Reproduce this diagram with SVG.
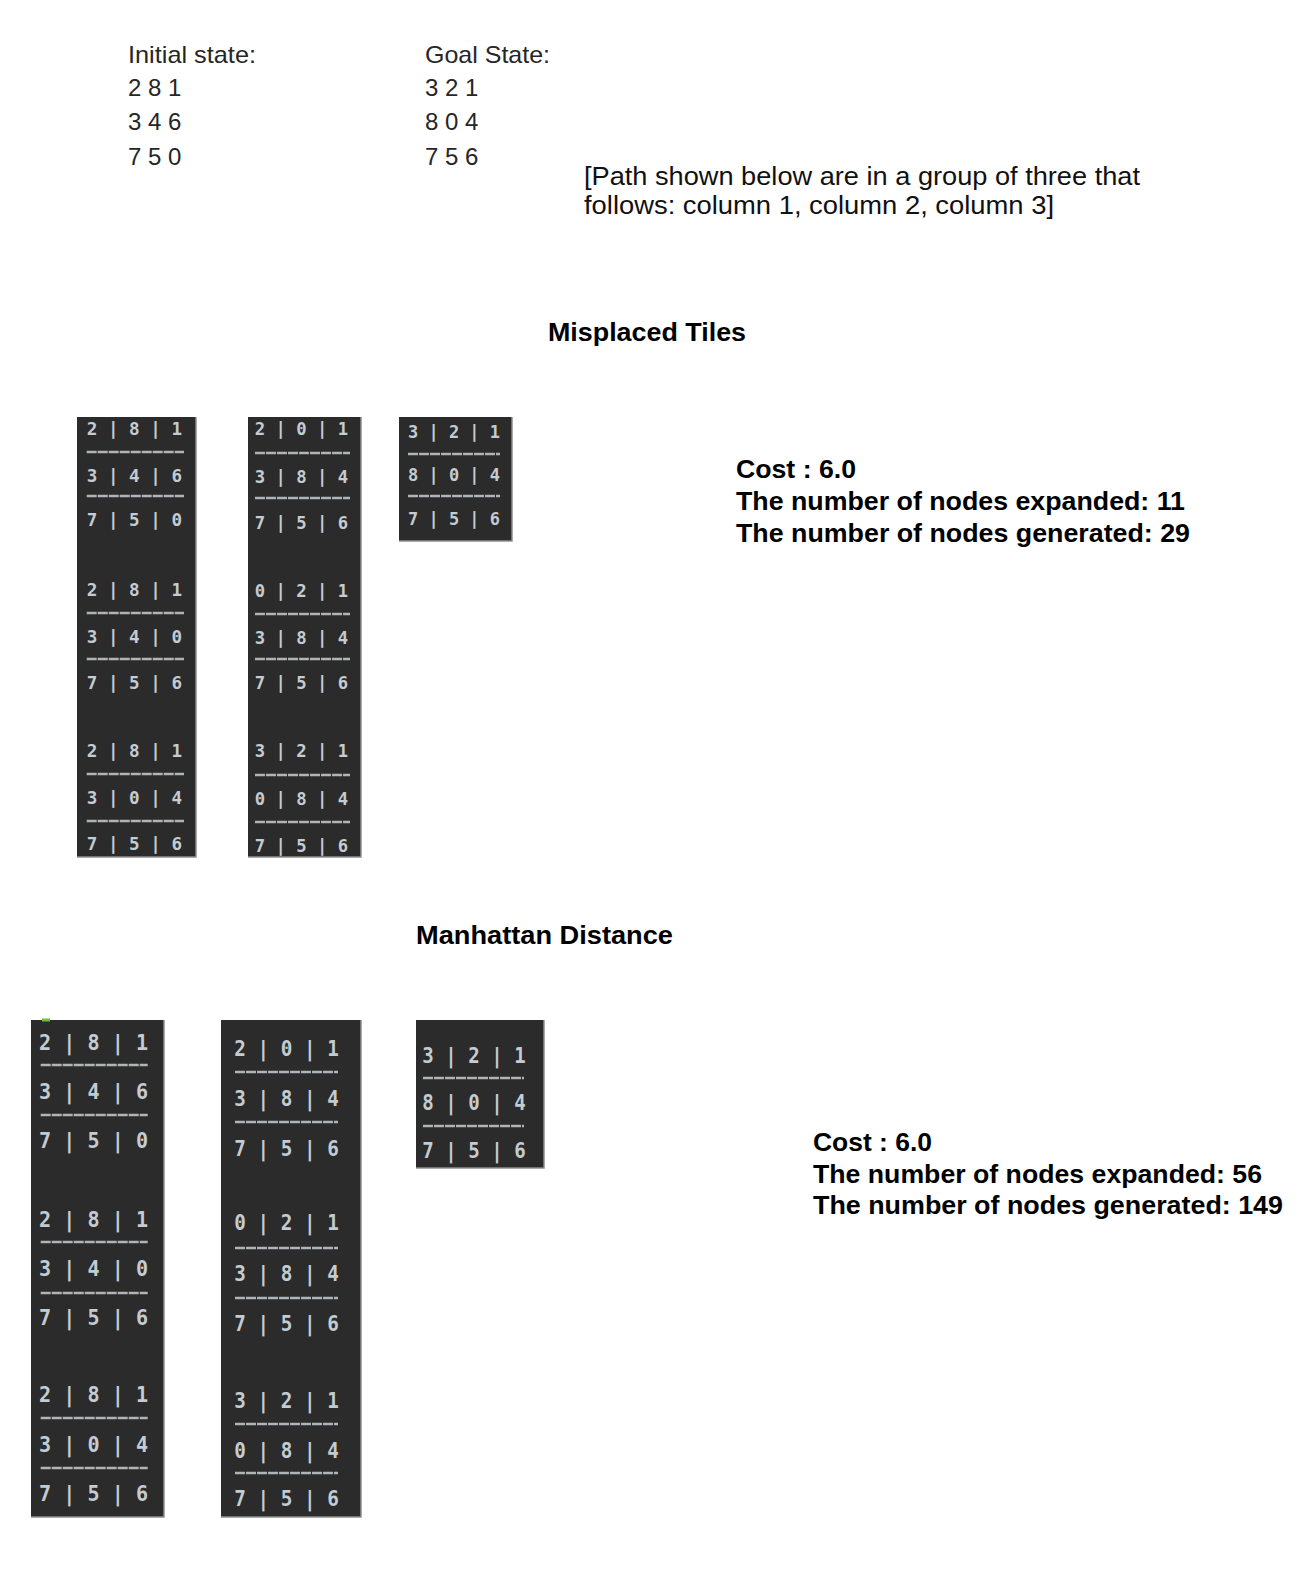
<svg xmlns="http://www.w3.org/2000/svg" width="1307" height="1584" viewBox="0 0 1307 1584">
<style>
.bg{fill:#ffffff}
.hd{font-family:"Liberation Sans",Arial,sans-serif;font-size:24px;fill:#262626}
.note{font-family:"Liberation Sans",Arial,sans-serif;font-size:25px;fill:#111111}
.ttl{font-family:"Liberation Sans",Arial,sans-serif;font-size:25px;font-weight:bold;fill:#000000}
.st{font-family:"Liberation Sans",Arial,sans-serif;font-size:25px;font-weight:bold;fill:#000000}
.pan{fill:#2b2b2b}
.edge{stroke:#8f8f8f;stroke-width:1.5;fill:none}
.t18{font-family:"DejaVu Sans Mono","Liberation Mono",monospace;font-size:18px;font-weight:bold;fill:#c4ccd2}
.t22{font-family:"DejaVu Sans Mono","Liberation Mono",monospace;font-size:22px;font-weight:bold;fill:#c4ccd2}
.sep{stroke:#b0b4b8;stroke-width:2.5;stroke-dasharray:10 1}
</style>
<rect class="bg" x="0" y="0" width="1307" height="1584"/>

<g id="header">
  <text class="hd" x="128" y="63" textLength="128" lengthAdjust="spacingAndGlyphs">Initial state:</text>
  <text class="hd" x="128" y="96">2 8 1</text>
  <text class="hd" x="128" y="130">3 4 6</text>
  <text class="hd" x="128" y="165">7 5 0</text>
  <text class="hd" x="425" y="63" textLength="125" lengthAdjust="spacingAndGlyphs">Goal State:</text>
  <text class="hd" x="425" y="96">3 2 1</text>
  <text class="hd" x="425" y="130">8 0 4</text>
  <text class="hd" x="425" y="165">7 5 6</text>
  <text class="note" x="584" y="185" textLength="556" lengthAdjust="spacingAndGlyphs">[Path shown below are in a group of three that</text>
  <text class="note" x="584" y="214" textLength="470" lengthAdjust="spacingAndGlyphs">follows: column 1, column 2, column 3]</text>
</g>

<g id="misplaced-title">
  <text class="ttl" x="548" y="341" textLength="198" lengthAdjust="spacingAndGlyphs">Misplaced Tiles</text>
</g>

<g id="misplaced-col1">
  <rect class="pan" x="77" y="417" width="119" height="440"/>
  <path class="edge" d="M196 417 V857 H77"/>
  <text class="t18" x="86.7" y="434.6" textLength="95.4" lengthAdjust="spacingAndGlyphs">2 | 8 | 1</text>
  <line class="sep" x1="86.7" y1="452" x2="184" y2="452"/>
  <text class="t18" x="86.7" y="481.6" textLength="95.4" lengthAdjust="spacingAndGlyphs">3 | 4 | 6</text>
  <line class="sep" x1="86.7" y1="496" x2="184" y2="496"/>
  <text class="t18" x="86.7" y="525.6" textLength="95.4" lengthAdjust="spacingAndGlyphs">7 | 5 | 0</text>
  <text class="t18" x="86.7" y="595.6" textLength="95.4" lengthAdjust="spacingAndGlyphs">2 | 8 | 1</text>
  <line class="sep" x1="86.7" y1="613" x2="184" y2="613"/>
  <text class="t18" x="86.7" y="642.6" textLength="95.4" lengthAdjust="spacingAndGlyphs">3 | 4 | 0</text>
  <line class="sep" x1="86.7" y1="659" x2="184" y2="659"/>
  <text class="t18" x="86.7" y="688.6" textLength="95.4" lengthAdjust="spacingAndGlyphs">7 | 5 | 6</text>
  <text class="t18" x="86.7" y="756.6" textLength="95.4" lengthAdjust="spacingAndGlyphs">2 | 8 | 1</text>
  <line class="sep" x1="86.7" y1="774" x2="184" y2="774"/>
  <text class="t18" x="86.7" y="803.6" textLength="95.4" lengthAdjust="spacingAndGlyphs">3 | 0 | 4</text>
  <line class="sep" x1="86.7" y1="821" x2="184" y2="821"/>
  <text class="t18" x="86.7" y="849.6" textLength="95.4" lengthAdjust="spacingAndGlyphs">7 | 5 | 6</text>
</g>

<g id="misplaced-col2">
  <rect class="pan" x="248" y="417" width="113" height="440"/>
  <path class="edge" d="M361 417 V857 H248"/>
  <text class="t18" x="254.8" y="434.6" textLength="93.4" lengthAdjust="spacingAndGlyphs">2 | 0 | 1</text>
  <line class="sep" x1="255" y1="453" x2="350" y2="453"/>
  <text class="t18" x="254.8" y="482.6" textLength="93.4" lengthAdjust="spacingAndGlyphs">3 | 8 | 4</text>
  <line class="sep" x1="255" y1="498" x2="350" y2="498"/>
  <text class="t18" x="254.8" y="528.6" textLength="93.4" lengthAdjust="spacingAndGlyphs">7 | 5 | 6</text>
  <text class="t18" x="254.8" y="596.6" textLength="93.4" lengthAdjust="spacingAndGlyphs">0 | 2 | 1</text>
  <line class="sep" x1="255" y1="614" x2="350" y2="614"/>
  <text class="t18" x="254.8" y="643.6" textLength="93.4" lengthAdjust="spacingAndGlyphs">3 | 8 | 4</text>
  <line class="sep" x1="255" y1="659" x2="350" y2="659"/>
  <text class="t18" x="254.8" y="688.6" textLength="93.4" lengthAdjust="spacingAndGlyphs">7 | 5 | 6</text>
  <text class="t18" x="254.8" y="756.6" textLength="93.4" lengthAdjust="spacingAndGlyphs">3 | 2 | 1</text>
  <line class="sep" x1="255" y1="775" x2="350" y2="775"/>
  <text class="t18" x="254.8" y="804.6" textLength="93.4" lengthAdjust="spacingAndGlyphs">0 | 8 | 4</text>
  <line class="sep" x1="255" y1="822" x2="350" y2="822"/>
  <text class="t18" x="254.8" y="851.6" textLength="93.4" lengthAdjust="spacingAndGlyphs">7 | 5 | 6</text>
</g>

<g id="misplaced-col3">
  <rect class="pan" x="399" y="417" width="113" height="124"/>
  <path class="edge" d="M512 417 V541 H399"/>
  <text class="t18" x="408" y="438" textLength="92" lengthAdjust="spacingAndGlyphs">3 | 2 | 1</text>
  <line class="sep" x1="408" y1="454" x2="500" y2="454"/>
  <text class="t18" x="408" y="481" textLength="92" lengthAdjust="spacingAndGlyphs">8 | 0 | 4</text>
  <line class="sep" x1="408" y1="496" x2="500" y2="496"/>
  <text class="t18" x="408" y="525" textLength="92" lengthAdjust="spacingAndGlyphs">7 | 5 | 6</text>
</g>

<g id="misplaced-stats">
  <text class="st" x="736" y="478" textLength="120" lengthAdjust="spacingAndGlyphs">Cost : 6.0</text>
  <text class="st" x="736" y="510" textLength="449" lengthAdjust="spacingAndGlyphs">The number of nodes expanded: 11</text>
  <text class="st" x="736" y="542" textLength="454" lengthAdjust="spacingAndGlyphs">The number of nodes generated: 29</text>
</g>

<g id="manhattan-title">
  <text class="ttl" x="416" y="944" textLength="257" lengthAdjust="spacingAndGlyphs">Manhattan Distance</text>
</g>

<g id="manhattan-col1">
  <rect class="pan" x="31" y="1020" width="133" height="497"/>
  <path class="edge" d="M164 1020 V1517 H31"/>
  <rect x="42" y="1018.5" width="8" height="3" fill="#6fbf3a"/>
  <text class="t22" x="39" y="1050" textLength="109" lengthAdjust="spacingAndGlyphs">2 | 8 | 1</text>
  <line class="sep" x1="40.7" y1="1065" x2="147.7" y2="1065"/>
  <text class="t22" x="39" y="1099" textLength="109" lengthAdjust="spacingAndGlyphs">3 | 4 | 6</text>
  <line class="sep" x1="40.7" y1="1115" x2="147.7" y2="1115"/>
  <text class="t22" x="39" y="1148" textLength="109" lengthAdjust="spacingAndGlyphs">7 | 5 | 0</text>
  <text class="t22" x="39" y="1227" textLength="109" lengthAdjust="spacingAndGlyphs">2 | 8 | 1</text>
  <line class="sep" x1="40.7" y1="1242" x2="147.7" y2="1242"/>
  <text class="t22" x="39" y="1276" textLength="109" lengthAdjust="spacingAndGlyphs">3 | 4 | 0</text>
  <line class="sep" x1="40.7" y1="1293" x2="147.7" y2="1293"/>
  <text class="t22" x="39" y="1325" textLength="109" lengthAdjust="spacingAndGlyphs">7 | 5 | 6</text>
  <text class="t22" x="39" y="1402" textLength="109" lengthAdjust="spacingAndGlyphs">2 | 8 | 1</text>
  <line class="sep" x1="40.7" y1="1418" x2="147.7" y2="1418"/>
  <text class="t22" x="39" y="1452" textLength="109" lengthAdjust="spacingAndGlyphs">3 | 0 | 4</text>
  <line class="sep" x1="40.7" y1="1468" x2="147.7" y2="1468"/>
  <text class="t22" x="39" y="1501" textLength="109" lengthAdjust="spacingAndGlyphs">7 | 5 | 6</text>
</g>

<g id="manhattan-col2">
  <rect class="pan" x="221" y="1020" width="140" height="497"/>
  <path class="edge" d="M361 1020 V1517 H221"/>
  <text class="t22" x="234.2" y="1056" textLength="104.6" lengthAdjust="spacingAndGlyphs">2 | 0 | 1</text>
  <line class="sep" x1="235" y1="1072" x2="338" y2="1072"/>
  <text class="t22" x="234.2" y="1106" textLength="104.6" lengthAdjust="spacingAndGlyphs">3 | 8 | 4</text>
  <line class="sep" x1="235" y1="1122" x2="338" y2="1122"/>
  <text class="t22" x="234.2" y="1156" textLength="104.6" lengthAdjust="spacingAndGlyphs">7 | 5 | 6</text>
  <text class="t22" x="234.2" y="1230" textLength="104.6" lengthAdjust="spacingAndGlyphs">0 | 2 | 1</text>
  <line class="sep" x1="235" y1="1248" x2="338" y2="1248"/>
  <text class="t22" x="234.2" y="1281" textLength="104.6" lengthAdjust="spacingAndGlyphs">3 | 8 | 4</text>
  <line class="sep" x1="235" y1="1298" x2="338" y2="1298"/>
  <text class="t22" x="234.2" y="1331" textLength="104.6" lengthAdjust="spacingAndGlyphs">7 | 5 | 6</text>
  <text class="t22" x="234.2" y="1408" textLength="104.6" lengthAdjust="spacingAndGlyphs">3 | 2 | 1</text>
  <line class="sep" x1="235" y1="1424" x2="338" y2="1424"/>
  <text class="t22" x="234.2" y="1458" textLength="104.6" lengthAdjust="spacingAndGlyphs">0 | 8 | 4</text>
  <line class="sep" x1="235" y1="1473" x2="338" y2="1473"/>
  <text class="t22" x="234.2" y="1506" textLength="104.6" lengthAdjust="spacingAndGlyphs">7 | 5 | 6</text>
</g>

<g id="manhattan-col3">
  <rect class="pan" x="416" y="1020" width="128" height="148"/>
  <path class="edge" d="M544 1020 V1168 H416"/>
  <text class="t22" x="422.2" y="1063" textLength="103.5" lengthAdjust="spacingAndGlyphs">3 | 2 | 1</text>
  <line class="sep" x1="423" y1="1078" x2="524" y2="1078"/>
  <text class="t22" x="422.2" y="1110" textLength="103.5" lengthAdjust="spacingAndGlyphs">8 | 0 | 4</text>
  <line class="sep" x1="423" y1="1126" x2="524" y2="1126"/>
  <text class="t22" x="422.2" y="1158" textLength="103.5" lengthAdjust="spacingAndGlyphs">7 | 5 | 6</text>
</g>

<g id="manhattan-stats">
  <text class="st" x="813" y="1151" textLength="119" lengthAdjust="spacingAndGlyphs">Cost : 6.0</text>
  <text class="st" x="813" y="1183" textLength="449" lengthAdjust="spacingAndGlyphs">The number of nodes expanded: 56</text>
  <text class="st" x="813" y="1214" textLength="470" lengthAdjust="spacingAndGlyphs">The number of nodes generated: 149</text>
</g>

<g id="connectors"></g>
</svg>
